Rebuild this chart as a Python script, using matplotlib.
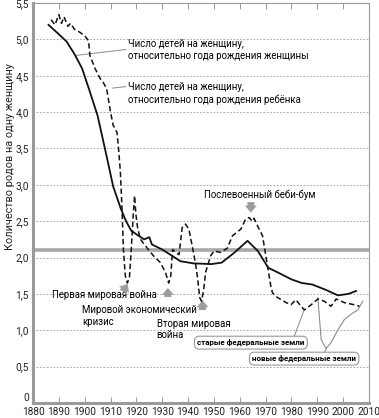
import numpy as np
import matplotlib
matplotlib.use('Agg')
from matplotlib import pyplot as plt

plt.rcParams['font.family'] = ['Roboto', 'DejaVu Sans']

# solid: by year of birth of the woman
solid_years = [1886, 1890, 1893, 1896, 1899, 1902, 1905, 1907, 1909, 1911, 1914, 1916,
               1918, 1920, 1923, 1925, 1926, 1930, 1934, 1937, 1942, 1949, 1953, 1958,
               1963, 1967, 1971, 1975, 1980, 1984, 1988, 1993, 1998, 2002, 2005]
solid_vals = [5.20, 5.07, 4.97, 4.80, 4.60, 4.28, 3.95, 3.63, 3.31, 2.98, 2.67, 2.50,
              2.37, 2.32, 2.25, 2.28, 2.18, 2.11, 2.02, 1.95, 1.92, 1.91, 1.93, 2.07,
              2.23, 2.09, 1.86, 1.79, 1.70, 1.65, 1.63, 1.56, 1.48, 1.50, 1.54]

# dashed: by year of birth of the child (old federal states after 1990)
dash_years = [1887, 1888.5, 1890, 1891, 1892, 1893.5, 1894.5, 1896, 1898, 1900, 1901.5,
              1902, 1904, 1906, 1907, 1908.5, 1910, 1911, 1912.5, 1913, 1913.8, 1914.4,
              1915, 1915.7, 1916.5, 1917.3, 1918, 1918.8, 1919.3, 1919.8, 1920.5, 1921.6,
              1923.5, 1926.7, 1929.3, 1931.3, 1932.5, 1933.3, 1934, 1935.2, 1936.5,
              1937.7, 1939, 1940.3, 1941.6, 1942.9, 1943.6, 1944.5, 1945.2, 1946, 1946.8,
              1948.7, 1950, 1952.6, 1955.2, 1957.2, 1960.4, 1962.3, 1963.6, 1964.9,
              1965.5, 1967.5, 1968.8, 1970.1, 1972, 1972.7, 1974.6, 1978, 1979.8, 1981.7,
              1983.7, 1985, 1987.6, 1990.2, 1992.7, 1995.3, 1997.3, 2000.5, 2004.4, 2006.3]
dash_vals = [5.27, 5.20, 5.34, 5.22, 5.31, 5.18, 5.22, 5.14, 5.10, 5.05, 4.98,
             4.78, 4.60, 4.46, 4.42, 4.32, 4.00, 3.82, 3.72, 3.54, 3.18, 2.71,
             2.10, 1.75, 1.65, 1.72, 2.10, 2.60, 2.85, 2.60, 2.40, 2.25,
             2.16, 2.02, 1.93, 1.79, 1.65, 1.75, 2.11, 2.07, 2.04,
             2.41, 2.46, 2.39, 2.16, 1.91, 1.74, 1.45, 1.40, 1.55, 1.80,
             2.02, 2.09, 2.07, 2.13, 2.30, 2.39, 2.53, 2.55, 2.50,
             2.54, 2.39, 2.30, 2.02, 1.61, 1.51, 1.45, 1.38, 1.35, 1.42,
             1.33, 1.28, 1.35, 1.43, 1.40, 1.33, 1.43, 1.38, 1.35, 1.33]

# thin grey: new federal states
new_years = [1990.2, 1991.5, 1993.4, 1995.3, 1997.9, 2000.5, 2003, 2005.7, 2007.6]
new_vals = [1.45, 0.87, 0.75, 0.83, 1.00, 1.15, 1.22, 1.28, 1.40]

replacement = 2.1
x_ticks = list(range(1880, 2011, 10))
y_ticks = [0, 0.5, 1.0, 1.5, 2.0, 2.5, 3.0, 3.5, 4.0, 4.5, 5.0, 5.5]
y_ticklabels = ['0', '0,5', '1,0', '1,5', '2,0', '2,5', '3,0', '3,5', '4,0', '4,5', '5,0', '5,5']

fig = plt.figure(figsize=(3.79, 4.18), dpi=100)
ax = fig.add_axes([33 / 379, 15 / 418, 336 / 379, 400 / 418])
ax.set_xlim(1880, 2010)
ax.set_ylim(0, 5.5)

for v in y_ticks[1:-1]:
    ax.axhline(v, color='#9a9a9a', lw=0.6, ls=(0, (2, 2)), zorder=1)
ax.axhline(replacement, color='#a8a8a8', lw=2.6, zorder=2)

ax.plot(new_years, new_vals, color='#8c8c8c', lw=0.8, zorder=3)
ax.plot(dash_years, dash_vals, color='#111111', lw=1.1, ls=(0, (3.5, 2)), zorder=4)
ax.plot(solid_years, solid_vals, color='#111111', lw=1.3, zorder=5)

ax.set_xticks(x_ticks)
ax.set_yticks(y_ticks)
ax.set_yticklabels(y_ticklabels)
ax.tick_params(axis='x', direction='in', length=4, width=0.6, color='#888888',
               labelsize=7.3, labelcolor='#222222', pad=3, top=True)
ax.tick_params(axis='y', length=0, labelsize=7.3, labelcolor='#222222', pad=3)
ax.get_yticklabels()[0].set_verticalalignment('bottom')

for side in ['left', 'bottom']:
    ax.spines[side].set_color('#9a9a9a')
    ax.spines[side].set_linewidth(2.2)
for side in ['top', 'right']:
    ax.spines[side].set_color('#9a9a9a')
    ax.spines[side].set_linewidth(0.8)

fig.text(10 / 379, 1 - 157 / 418, 'Количество родов на одну женщину', rotation=90,
         ha='center', va='center', fontsize=7.8, color='#222222')

fs = 6.9
lead = dict(color='#8a8a8a', lw=0.7)
ax.text(1916.9, 4.85, 'Число детей на женщину,\nотносительно года рождения женщины',
        fontsize=fs, va='center', linespacing=1.3)
ax.plot([1896.7, 1915.9], [4.78, 4.86], **lead)
ax.text(1916.9, 4.25, 'Число детей на женщину,\nотносительно года рождения ребёнка',
        fontsize=fs, va='center', linespacing=1.3)
ax.plot([1910.8, 1915.9], [4.33, 4.35], **lead)

ax.text(1946, 2.86, 'Послевоенный беби-бум', fontsize=fs, va='center')
ax.text(1887.4, 1.49, 'Первая мировая война', fontsize=fs, va='center')
# one text per line so the blocks keep their own extents
ax.text(1899, 1.28, 'Мировой экономический', fontsize=fs, va='center')
ax.text(1899, 1.11, 'кризис', fontsize=fs, va='center')
ax.text(1927.8, 1.09, 'Вторая мировая', fontsize=fs, va='center')
ax.text(1927.8, 0.93, 'война', fontsize=fs, va='center')

arrow = dict(arrowstyle='simple,head_width=0.85,head_length=0.5,tail_width=0.5',
             color='#9c9c9c', lw=0)
ax.annotate('', xy=(1917.2, 1.67), xytext=(1914.2, 1.50), arrowprops=arrow)
ax.annotate('', xy=(1932.2, 1.62), xytext=(1932.2, 1.42), arrowprops=arrow)
ax.annotate('', xy=(1945.6, 1.45), xytext=(1945.6, 1.24), arrowprops=arrow)
ax.annotate('', xy=(1964.3, 2.58), xytext=(1964.3, 2.80), arrowprops=arrow)

box = dict(boxstyle='round,pad=0.35,rounding_size=0.6', fc='white', ec='#9a9a9a', lw=0.8)
ax.plot([1981, 1984.9], [0.91, 1.28], **lead)
ax.plot([1992.6, 1993.6], [0.68, 0.76], **lead)
ax.text(1964.3, 0.83, 'старые федеральные земли', fontsize=5.8, fontweight='bold',
        ha='center', va='center', bbox=box, zorder=6)
ax.text(1984.9, 0.61, 'новые федеральные земли', fontsize=5.8, fontweight='bold',
        ha='center', va='center', bbox=box, zorder=6)

fig.savefig('out.png', dpi=100)
